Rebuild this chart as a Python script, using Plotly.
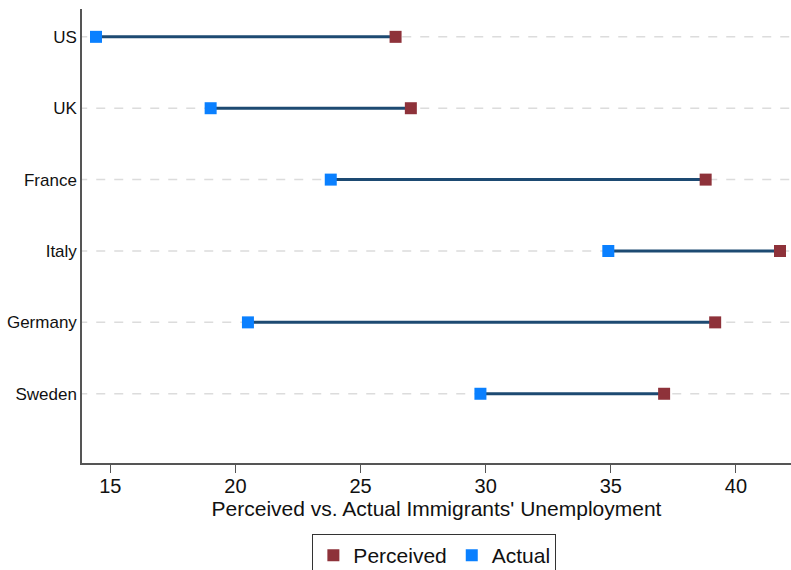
import plotly.graph_objects as go

countries = ["US", "UK", "France", "Italy", "Germany", "Sweden"]
perceived = [26.40, 27.01, 38.79, 41.76, 39.17, 37.13]
actual = [14.43, 19.01, 23.81, 34.90, 20.50, 29.79]
x_ticks = [15, 20, 25, 30, 35, 40]

pos = list(range(1, len(countries) + 1))

FONT = "Liberation Sans, Arial, Helvetica, sans-serif"

fig = go.Figure()

# dashed gridlines per category
gx, gy = [], []
for p in pos:
    gx += [13.0, 43.0, None]
    gy += [p, p, None]
fig.add_trace(go.Scatter(x=gx, y=gy, mode="lines",
                         line=dict(color="#dcdcdc", width=1.5, dash="dash"),
                         hoverinfo="skip", showlegend=False))

# connecting segments
lx, ly = [], []
for p, a, b in zip(pos, actual, perceived):
    lx += [a, b, None]
    ly += [p, p, None]
fig.add_trace(go.Scatter(x=lx, y=ly, mode="lines",
                         line=dict(color="#1d4a72", width=3),
                         hoverinfo="skip", showlegend=False))

fig.add_trace(go.Scatter(x=perceived, y=pos, mode="markers", name="Perceived",
                         cliponaxis=False,
                         marker=dict(symbol="square", size=12, color="#8e323a",
                                     line=dict(width=0))))
fig.add_trace(go.Scatter(x=actual, y=pos, mode="markers", name="Actual",
                         cliponaxis=False,
                         marker=dict(symbol="square", size=12, color="#0a80ff",
                                     line=dict(width=0))))

fig.update_layout(
    width=791, height=570,
    margin=dict(l=82, r=0, t=9, b=107, autoexpand=False),
    paper_bgcolor="white", plot_bgcolor="white",
    font=dict(family=FONT, color="#111111"),
    legend=dict(orientation="h", x=0.497, xanchor="center", xref="paper",
                yref="container", y=1 - 534 / 570, yanchor="top",
                bordercolor="#333333", borderwidth=1,
                font=dict(size=21, family=FONT),
                itemwidth=30, tracegroupgap=0),
    xaxis=dict(range=[13.87, 42.2], tickvals=x_ticks, automargin=False,
               showgrid=False, zeroline=False,
               showline=True, linecolor="#555555", linewidth=1.5,
               ticks="outside", ticklen=8, tickcolor="#555555",
               ticklabelstandoff=-4,
               tickfont=dict(size=20, family=FONT),
               title=dict(text="Perceived vs. Actual Immigrants' Unemployment",
                          font=dict(size=21, family=FONT), standoff=2)),
    yaxis=dict(range=[6.97, 0.61], tickvals=pos, ticktext=countries,
               automargin=False,
               showgrid=False, zeroline=False,
               showline=True, linecolor="#555555", linewidth=1.5,
               ticks="", ticklabelstandoff=0,
               tickfont=dict(size=17, family=FONT)),
)

fig.write_html("out.html", config={"displayModeBar": False},
               post_script="document.body.style.margin='0';document.body.style.padding='0';")
